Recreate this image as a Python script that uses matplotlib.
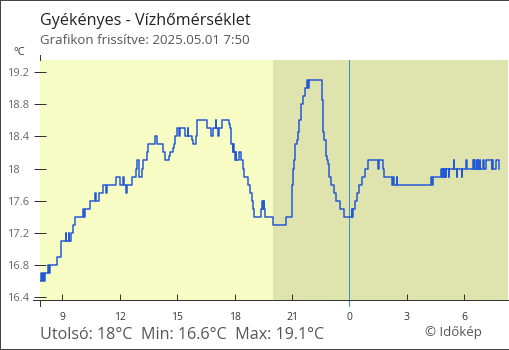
import matplotlib
matplotlib.use('Agg')
import matplotlib.pyplot as plt
from matplotlib.lines import Line2D
from matplotlib.patches import Rectangle

# water temperature steps: hour since midnight of day 1, value held until the next entry
hours = [7.83, 7.86, 7.95, 7.97, 8.06, 8.08, 8.27, 8.30, 8.33, 8.74,
         8.91, 8.95, 9.19, 9.21, 9.33, 9.36, 9.44, 9.57, 9.66, 10.10,
         10.12, 10.18, 10.44, 10.72, 10.75, 10.92, 11.11, 11.28, 11.31, 11.80,
         12.01, 12.18, 12.20, 12.33, 12.36, 12.62, 12.85, 12.88, 13.00, 13.16,
         13.23, 13.40, 13.47, 13.82, 13.92, 14.27, 14.34, 14.55, 14.62, 14.77,
         14.83, 14.90, 14.97, 15.09, 15.15, 15.42, 15.55, 15.58, 15.77, 15.84,
         15.98, 16.02, 16.05, 16.56, 16.78, 16.88, 17.03, 17.05, 17.14, 17.20,
         17.32, 17.72, 17.76, 17.80, 17.83, 17.90, 17.92, 17.99, 18.01, 18.07,
         18.09, 18.24, 18.31, 18.35, 18.42, 18.49, 18.71, 18.80, 18.89, 18.98,
         19.01, 19.38, 19.42, 19.50, 19.53, 19.55, 19.58, 19.99, 20.70, 20.98,
         21.01, 21.05, 21.10, 21.17, 21.24, 21.30, 21.36, 21.47, 21.57, 21.69,
         21.77, 21.82, 21.90, 22.55, 22.60, 22.63, 22.69, 22.76, 22.83, 22.88,
         22.95, 23.05, 23.19, 23.28, 23.51, 23.73, 24.13, 24.15, 24.20, 24.29,
         24.41, 24.48, 24.67, 24.83, 24.95, 25.51, 25.56, 25.74, 25.79, 26.24,
         26.27, 26.30, 26.47, 26.50, 28.26, 28.29, 28.36, 28.78, 28.81, 28.86,
         28.89, 28.94, 28.97, 29.01, 29.04, 29.06, 29.20, 29.22, 29.44, 29.46,
         29.60, 29.62, 29.88, 29.90, 30.10, 30.12, 30.47, 30.50, 30.53, 30.56,
         30.65, 30.68, 30.71, 30.73, 30.82, 30.84, 30.99, 31.01, 31.13, 31.43,
         31.47, 31.52, 31.64, 31.81]
temps = [16.6, 16.7, 16.6, 16.7, 16.6, 16.7, 16.8, 16.7, 16.8, 16.9,
         17.0, 17.1, 17.2, 17.1, 17.2, 17.1, 17.2, 17.3, 17.4, 17.5,
         17.4, 17.5, 17.6, 17.7, 17.6, 17.7, 17.8, 17.7, 17.8, 17.9,
         17.8, 17.9, 17.8, 17.7, 17.8, 17.9, 18.0, 18.1, 17.9, 18.0,
         18.1, 18.2, 18.3, 18.4, 18.3, 18.2, 18.1, 18.15, 18.2, 18.25,
         18.3, 18.4, 18.5, 18.4, 18.5, 18.4, 18.5, 18.4, 18.35, 18.3,
         18.4, 18.5, 18.6, 18.5, 18.4, 18.5, 18.6, 18.5, 18.4, 18.5,
         18.6, 18.55, 18.5, 18.45, 18.3, 18.2, 18.3, 18.2, 18.1, 18.2,
         18.1, 18.2, 18.15, 18.1, 18.0, 17.9, 17.8, 17.7, 17.6, 17.5,
         17.4, 17.5, 17.6, 17.5, 17.6, 17.5, 17.4, 17.3, 17.4, 17.6,
         17.8, 18.0, 18.1, 18.3, 18.35, 18.45, 18.6, 18.8, 18.9, 19.0,
         19.1, 19.0, 19.1, 18.85, 18.65, 18.45, 18.35, 18.15, 18.1, 18.05,
         17.9, 17.8, 17.7, 17.6, 17.5, 17.4, 17.5, 17.4, 17.5, 17.6,
         17.7, 17.8, 17.9, 18.0, 18.1, 18.0, 18.1, 18.0, 17.9, 17.8,
         17.9, 17.8, 17.9, 17.8, 17.9, 17.8, 17.9, 18.0, 17.9, 18.0,
         17.9, 18.0, 17.9, 18.0, 17.9, 18.0, 17.9, 18.0, 18.1, 18.0,
         17.9, 18.0, 17.9, 18.0, 18.1, 18.0, 18.1, 18.0, 18.1, 18.0,
         18.1, 18.0, 18.1, 18.0, 18.1, 18.0, 18.1, 18.0, 18.1, 18.0,
         18.1, 18.0, 18.1, 18.0]
end_hour = 31.833   # 7:50 on day 2

x_ticks = [9, 12, 15, 18, 21, 24, 27, 30]
x_labels = ['9', '12', '15', '18', '21', '0', '3', '6']
y_ticks = [16.4, 16.8, 17.2, 17.6, 18.0, 18.4, 18.8, 19.2]
night_start = 20.0
midnight = 24.0

plt.rcParams['font.family'] = ['Open Sans', 'DejaVu Sans']

W, H = 510, 350
PX = 72 / 100   # points per pixel

fig = plt.figure(figsize=(W / 100, H / 100), dpi=100)
fig.patch.set_facecolor('white')

# plot area in pixels: x 40..508, y 60..300
ax = fig.add_axes([40 / W, 50 / H, 468 / W, 240 / H])
ax.set_facecolor('#f6fcc3')
xmin, xmax = 7.833, 32.281
ax.set_xlim(xmin, xmax)
ax.set_ylim(16.359, 19.354)

# night
ax.axvspan(night_start, xmax, color='#dfe4ae', lw=0, zorder=0)
# midnight marker
ax.axvline(midnight, ymin=-6 / 240, ymax=1, color='#3b8fc7', lw=1 * PX,
           clip_on=False, zorder=2)

ax.step(hours + [end_hour], temps + [temps[-1]], where='post',
        color='#2358d6', lw=1.5 * PX, zorder=3)

for s in ['top', 'right', 'left']:
    ax.spines[s].set_visible(False)
ax.spines['bottom'].set_color('#333333')
ax.spines['bottom'].set_linewidth(1 * PX)

ax.set_xticks(x_ticks)
ax.set_xticklabels(x_labels)
ax.tick_params(axis='x', direction='in', length=6 * PX, width=1 * PX,
               color='#333333', labelcolor='#333333', labelsize=7.5, pad=9)

ax.set_yticks(y_ticks)
ax.set_yticklabels([f'{v:g}' for v in y_ticks])
ax.tick_params(axis='y', direction='inout', length=12 * PX, width=1 * PX,
               color='#333333', labelcolor='#666666', labelsize=8,
               pad=27 * PX)
for lab in ax.get_yticklabels():
    lab.set_horizontalalignment('left')

# axis stubs outside the plot area
ax.add_line(Line2D([-7 / 468, 0], [0, 0], transform=ax.transAxes,
                   color='#333333', lw=1 * PX, clip_on=False))
ax.add_line(Line2D([0, 0], [0, -6 / 240], transform=ax.transAxes,
                   color='#333333', lw=1 * PX, clip_on=False))
ax.add_line(Line2D([0, 0], [1, 1 + 5 / 240], transform=ax.transAxes,
                   color='#333333', lw=1 * PX, clip_on=False))

# texts
def fx(x):
    return x / W

def fy(y):
    return 1 - y / H

fig.text(fx(40), fy(25), 'Gyékényes - Vízhőmérséklet', fontsize=11.6,
         color='#222222', va='baseline')
fig.text(fx(40), fy(44), 'Grafikon frissítve: 2025.05.01 7:50', fontsize=9.5,
         color='#555555', va='baseline')
fig.text(fx(13), fy(55), '°C', fontsize=8, color='#333333', va='baseline')

stats = f'Utolsó: {temps[-1]:g}°C  Min: {min(temps):g}°C  Max: {max(temps):g}°C'
fig.text(fx(40), fy(339), stats, fontsize=11.6, color='#555555', va='baseline')
fig.text(fx(425), fy(336), '© Időkép', fontsize=9.5, color='#555555',
         va='baseline')

# frame
fig.patches.append(Rectangle((0, 0), 1, 1, transform=fig.transFigure,
                             fill=False, edgecolor='#444444', lw=2 * PX))

fig.savefig('out.png', dpi=100)
